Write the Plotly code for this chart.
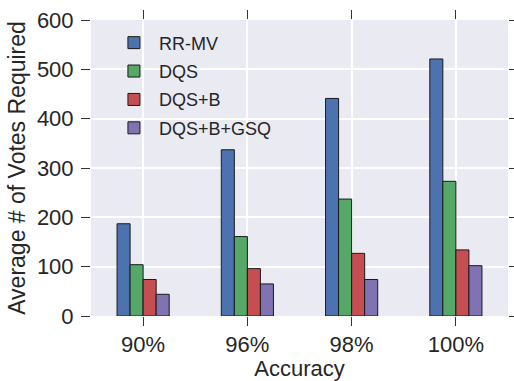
import plotly.graph_objects as go

categories = ["90%", "96%", "98%", "100%"]
series_names = ["RR-MV", "DQS", "DQS+B", "DQS+B+GSQ"]
rr_mv = [187, 337, 441, 521]
dqs = [104, 161, 237, 273]
dqs_b = [74, 96, 127, 134]
dqs_b_gsq = [44, 65, 74, 102]
y_ticks = [0, 100, 200, 300, 400, 500, 600]

colors = ["#4C72B0", "#55A868", "#C44E52", "#8172B2"]
values = [rr_mv, dqs, dqs_b, dqs_b_gsq]

fig = go.Figure()
for name, vals, col in zip(series_names, values, colors):
    fig.add_trace(go.Bar(
        x=categories, y=vals, name=name, legendgroup=name,
        marker=dict(color=col, line=dict(color="#1a1a1a", width=1)),
    ))

font_family = "Liberation Sans, Arial, sans-serif"
txt = "#262626"

fig.update_layout(
    width=514, height=381,
    margin=dict(l=91, r=6, t=20, b=65),
    paper_bgcolor="white",
    plot_bgcolor="#EAEAF2",
    barmode="group",
    bargap=0.5,
    bargroupgap=0,
    font=dict(family=font_family, color=txt, size=22),
    showlegend=True,
    legend=dict(
        x=0.043, y=0.985, xanchor="left", yanchor="top",
        bgcolor="rgba(0,0,0,0)",
        font=dict(size=18, color=txt),
        tracegroupgap=2,
        itemwidth=40,
    ),
    xaxis=dict(
        range=[-0.5, 3.5], automargin=False,
        showgrid=True, gridcolor="white", gridwidth=1.5,
        ticks="outside", ticklen=9, tickcolor="#333333", tickwidth=1.2,
        mirror="ticks", showline=False, zeroline=False,
        tickfont=dict(size=22, color=txt),
        title=dict(text="Accuracy", font=dict(size=22, color=txt), standoff=2),
    ),
    yaxis=dict(
        range=[0, 600], tickvals=y_ticks, automargin=False,
        showgrid=True, gridcolor="white", gridwidth=1.5,
        ticks="outside", ticklen=9, tickcolor="#333333", tickwidth=1.2,
        mirror="ticks", showline=False, zeroline=False,
        ticklabelstandoff=3,
        tickfont=dict(size=22, color=txt),
        title=dict(text="Average # of Votes Required", font=dict(size=23, color=txt), standoff=4),
    ),
)

fig.write_html("out.html")
